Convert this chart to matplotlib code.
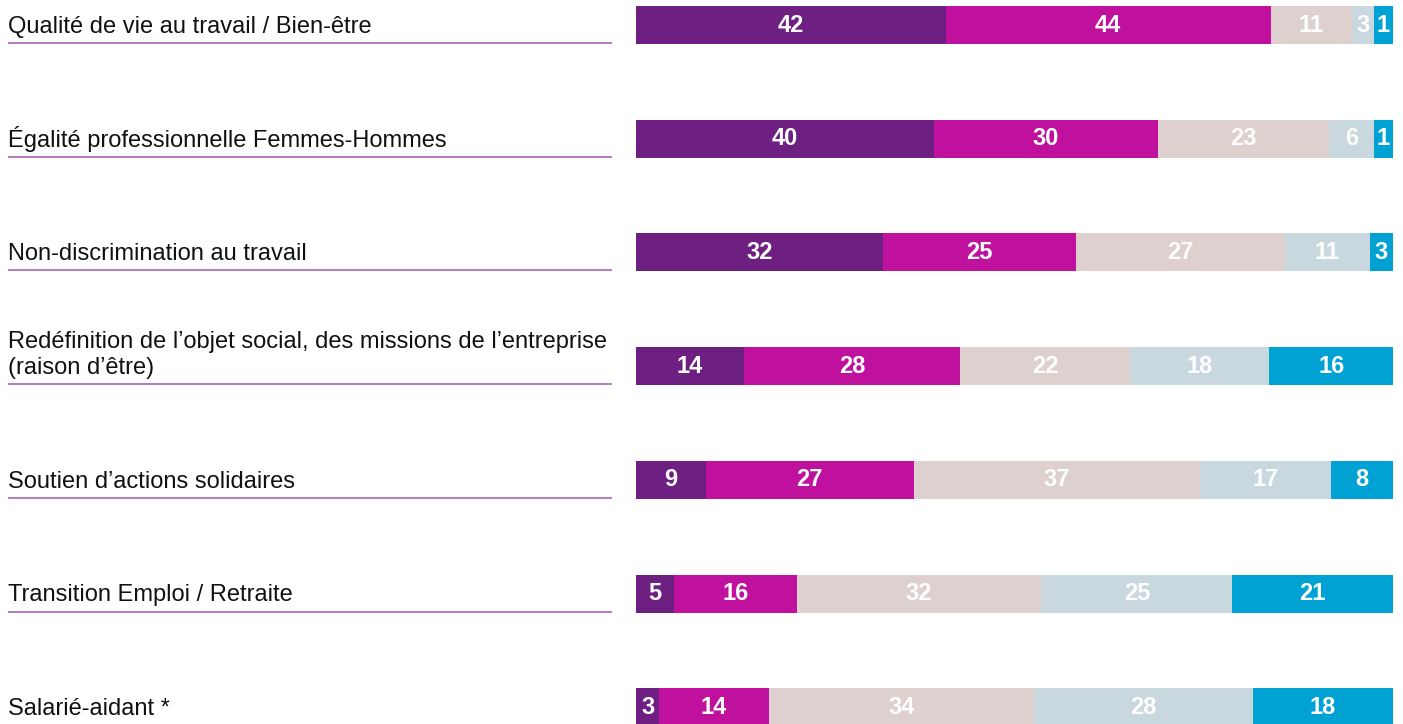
import matplotlib.pyplot as plt
import numpy as np

plt.rcParams['font.family'] = ['Liberation Sans', 'DejaVu Sans']

# data
topics = [
    "Qualité de vie au travail / Bien-être",
    "Égalité professionnelle Femmes-Hommes",
    "Non-discrimination au travail",
    "Redéfinition de l’objet social, des missions de l’entreprise\n(raison d’être)",
    "Soutien d’actions solidaires",
    "Transition Emploi / Retraite",
    "Salarié-aidant *",
]
s1 = [42, 40, 32, 14, 9, 5, 3]
s2 = [44, 30, 25, 28, 27, 16, 14]
s3 = [11, 23, 27, 22, 37, 32, 34]
s4 = [3, 6, 11, 18, 17, 25, 28]
s5 = [1, 1, 3, 16, 8, 21, 18]

colors = ['#6e1f82', '#c0119e', '#ded0cf', '#c9d7df', '#00a2d3']
line_color = '#a866b6'

vals = np.array([s1, s2, s3, s4, s5], dtype=float).T
# small segments keep a minimum width so their label fits, rows fill the bar
widths = np.maximum(vals, 2.6)
widths = widths / widths.sum(axis=1, keepdims=True)

W, H = 1403, 724
fig = plt.figure(figsize=(W / 100, H / 100), dpi=100)

step = 113.7
top = -25 / step
bottom = (H - 25) / step

ax = fig.add_axes([636 / W, 0, (1393 - 636) / W, 1])
axl = fig.add_axes([8 / W, 0, (612 - 8) / W, 1])

y = np.arange(len(topics))
left = np.zeros(len(topics))
for j in range(vals.shape[1]):
    ax.barh(y, widths[:, j], left=left, height=38 / step, color=colors[j],
            edgecolor='none')
    for i in range(len(topics)):
        ax.text(left[i] + widths[i, j] / 2, y[i], f"{int(vals[i, j])}",
                ha='center', va='center', color='white', fontsize=17,
                fontweight='bold')
    left += widths[:, j]

ax.set_xlim(0, 1)
ax.set_ylim(bottom, top)
ax.axis('off')

for i, t in enumerate(topics):
    axl.text(0, i + 8 / step, t, ha='left', va='baseline', fontsize=17,
             color='#111111', linespacing=1.26)
    axl.plot([0, 1], [i + 18 / step, i + 18 / step], color=line_color, lw=1.2)
axl.set_xlim(0, 1)
axl.set_ylim(bottom, top)
axl.axis('off')

fig.savefig('out.png', dpi=100)
